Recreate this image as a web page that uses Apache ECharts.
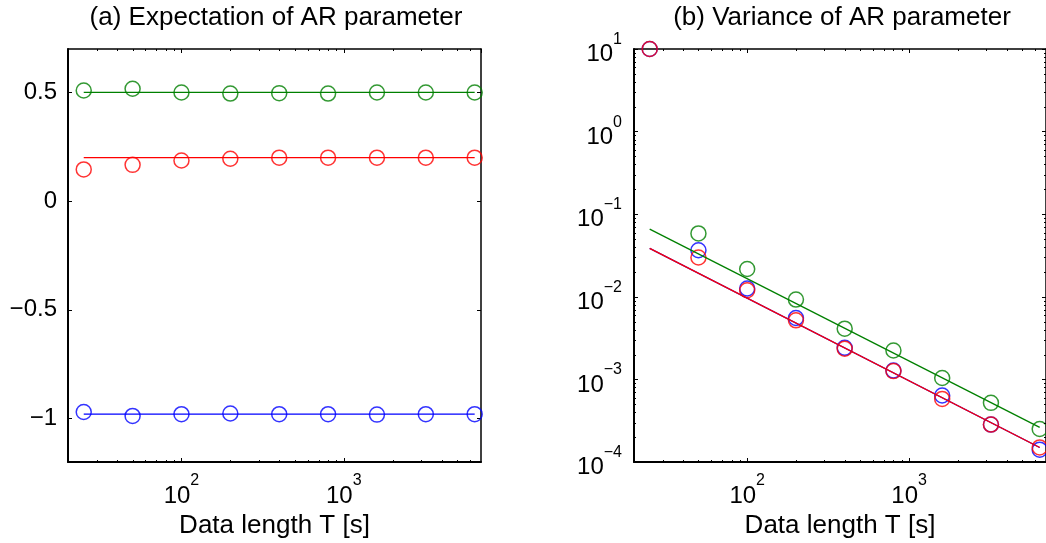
<!DOCTYPE html>
<html>
<head>
<meta charset="utf-8">
<script src="https://cdn.jsdelivr.net/npm/echarts@6/dist/echarts.min.js"></script>
<style>
  html, body { margin: 0; padding: 0; background: #fff; }
  #chart { width: 1046px; height: 543px; }
</style>
</head>
<body>
<div id="chart"></div>
<script>
// Data lengths T [s] of the simulated records
const dataLength = [25, 50, 100, 200, 400, 800, 1600, 3200, 6400];

// (a) Mean of the estimated AR parameters
const meanBlue  = [-0.970, -0.988, -0.980, -0.977, -0.980, -0.980, -0.982, -0.980, -0.980];
const meanGreen = [0.509, 0.517, 0.500, 0.495, 0.497, 0.495, 0.500, 0.500, 0.500];
const meanRed   = [0.146, 0.167, 0.187, 0.195, 0.200, 0.200, 0.200, 0.200, 0.200];

// (b) Variance of the estimated AR parameters
const varBlue  = [10, 0.0366, 0.0126, 0.00554, 0.00241, 0.00128, 0.000638, 0.000284, 0.000141];
const varGreen = [null, 0.0585, 0.0217, 0.00925, 0.00411, 0.00224, 0.00104, 0.00052, 0.000251];
const varRed   = [10, 0.0299, 0.0120, 0.00519, 0.00235, 0.00126, 0.00058, 0.000284, 0.000150];

// Reference (true / asymptotic) lines, given at both ends of the T range
const fitT = [25, 6400];
const fitMeanBlue  = [-0.98, -0.98];
const fitMeanGreen = [0.5, 0.5];
const fitMeanRed   = [0.2, 0.2];
const fitVarBlue   = [0.0385, 0.000150];
const fitVarGreen  = [0.0659, 0.000263];
const fitVarRed    = [0.0385, 0.000150];

// Axis ranges and tick values
const tRange = [20, 7000];
const meanRange = [-1.2, 0.7];
const varRange = [1e-4, 10];
const meanTicks = [-1, -0.5, 0, 0.5];
const minorT = [30, 40, 50, 60, 70, 80, 90, 200, 300, 400, 500, 600, 700, 800, 900,
                2000, 3000, 4000, 5000, 6000];
const minorVar = [2e-4, 3e-4, 4e-4, 5e-4, 6e-4, 7e-4, 8e-4, 9e-4,
                  0.002, 0.003, 0.004, 0.005, 0.006, 0.007, 0.008, 0.009,
                  0.02, 0.03, 0.04, 0.05, 0.06, 0.07, 0.08, 0.09,
                  0.2, 0.3, 0.4, 0.5, 0.6, 0.7, 0.8, 0.9,
                  2, 3, 4, 5, 6, 7, 8, 9];

const BLUE = '#0000ff', GREEN = '#008000', RED = '#ff0000';
const FONT = '"Liberation Sans", Arial, Helvetica, sans-serif';
const MINUS = '\u2212';

const powRich = {
  b: { fontSize: 24, lineHeight: 35, verticalAlign: 'bottom', color: '#000', fontFamily: FONT },
  s: { fontSize: 16, lineHeight: 16, verticalAlign: 'top', color: '#000', fontFamily: FONT }
};
function powLabel(value) {
  const e = Math.log10(value);
  const r = Math.round(e);
  if (Math.abs(e - r) > 1e-6) return '';
  return '{b|10}{s|' + (r < 0 ? MINUS + (-r) : r) + '}';
}
function meanLabel(v) {
  return v < 0 ? MINUS + String(Math.abs(v)) : String(v);
}

function pairs(xs, ys) {
  return xs.map((x, i) => (ys[i] == null ? null : [x, ys[i]])).filter(Boolean);
}
function circles(xs, ys, color, gi) {
  return {
    type: 'scatter', xAxisIndex: gi * 2, yAxisIndex: gi * 2,
    data: pairs(xs, ys), symbol: 'circle', symbolSize: 15, clip: false, silent: true,
    itemStyle: { color: 'transparent', borderColor: color, borderWidth: 1.5 }
  };
}
function refLine(ys, color, gi) {
  return {
    type: 'line', xAxisIndex: gi * 2, yAxisIndex: gi * 2,
    data: pairs(fitT, ys), showSymbol: false, symbol: 'none', silent: true,
    lineStyle: { color: color, width: 1.3 }
  };
}
// Minor tick marks on both opposite edges, positioned through the axis scale
function minorTicks(values, dim, gi, ref, len) {
  return {
    type: 'custom', xAxisIndex: gi * 2, yAxisIndex: gi * 2, silent: true, clip: false, z: 5,
    data: values.map(v => (dim === 'x' ? [v, ref] : [ref, v])),
    renderItem(params, api) {
      const cs = params.coordSys;
      const p = api.coord([api.value(0), api.value(1)]);
      const style = { stroke: '#000', lineWidth: 1 };
      if (dim === 'x') {
        const x = Math.round(p[0]) + 0.5;
        const yb = cs.y + cs.height, yt = cs.y;
        return { type: 'group', children: [
          { type: 'line', shape: { x1: x, y1: yb, x2: x, y2: yb - len }, style },
          { type: 'line', shape: { x1: x, y1: yt, x2: x, y2: yt + len }, style }
        ] };
      }
      const y = Math.round(p[1]) + 0.5;
      const xl = cs.x, xr = cs.x + cs.width;
      return { type: 'group', children: [
        { type: 'line', shape: { x1: xl, y1: y, x2: xl + len, y2: y }, style },
        { type: 'line', shape: { x1: xr, y1: y, x2: xr - len, y2: y }, style }
      ] };
    }
  };
}

function tAxis(gi, position, main) {
  return {
    type: 'log', logBase: 10, gridIndex: gi, position: position,
    min: tRange[0], max: tRange[1],
    axisLine: { show: true, onZero: false, lineStyle: { color: '#000', width: main ? 2 : 1.5 } },
    axisTick: { show: true, inside: true, length: 4, lineStyle: { color: '#000', width: 1 } },
    axisLabel: main
      ? { show: true, margin: 11, formatter: powLabel, rich: powRich, color: '#000', showMinLabel: false, showMaxLabel: false }
      : { show: false },
    splitLine: { show: false },
    name: main ? 'Data length T [s]' : '',
    nameLocation: 'middle', nameGap: 42,
    nameTextStyle: { fontSize: 26, color: '#000', fontFamily: FONT }
  };
}
function meanAxis(position, main) {
  return {
    type: 'value', gridIndex: 0, position: position,
    min: meanRange[0], max: meanRange[1],
    axisLine: { show: true, onZero: false, lineStyle: { color: '#000', width: main ? 2 : 1.5 } },
    axisTick: { show: true, inside: true, length: 4, customValues: meanTicks, lineStyle: { color: '#000', width: 1 } },
    axisLabel: main
      ? { show: true, customValues: meanTicks, formatter: meanLabel, fontSize: 24, color: '#000', fontFamily: FONT, margin: 11 }
      : { show: false },
    splitLine: { show: false }
  };
}
function varAxis(position, main) {
  return {
    type: 'log', logBase: 10, gridIndex: 1, position: position,
    min: varRange[0], max: varRange[1],
    axisLine: { show: true, onZero: false, lineStyle: { color: '#000', width: main ? 2 : 1.5 } },
    axisTick: { show: true, inside: true, length: 4, lineStyle: { color: '#000', width: 1 } },
    axisLabel: main
      ? { show: true, margin: 12, formatter: powLabel, rich: powRich, color: '#000', showMinLabel: true, showMaxLabel: true }
      : { show: false },
    splitLine: { show: false }
  };
}

const chart = echarts.init(document.getElementById('chart'), null, { renderer: 'canvas' });
chart.setOption({
  animation: false,
  backgroundColor: '#fff',
  textStyle: { fontFamily: FONT, color: '#000' },
  title: [
    { text: '(a) Expectation of AR parameter', left: 276, top: 5, padding: 0, textAlign: 'center',
      textStyle: { fontSize: 26, fontWeight: 'normal', color: '#000', fontFamily: FONT } },
    { text: '(b) Variance of AR parameter', left: 842, top: 5, padding: 0, textAlign: 'center',
      textStyle: { fontSize: 26, fontWeight: 'normal', color: '#000', fontFamily: FONT } }
  ],
  grid: [
    { left: 68, top: 49, width: 413, height: 413, containLabel: false, outerBoundsMode: 'none' },
    { left: 634, top: 49, width: 412, height: 413, containLabel: false, outerBoundsMode: 'none' }
  ],
  xAxis: [tAxis(0, 'bottom', true), tAxis(0, 'top', false), tAxis(1, 'bottom', true), tAxis(1, 'top', false)],
  yAxis: [meanAxis('left', true), meanAxis('right', false), varAxis('left', true), varAxis('right', false)],
  series: [
    // (a) expectation
    refLine(fitMeanBlue, BLUE, 0), circles(dataLength, meanBlue, BLUE, 0),
    refLine(fitMeanGreen, GREEN, 0), circles(dataLength, meanGreen, GREEN, 0),
    refLine(fitMeanRed, RED, 0), circles(dataLength, meanRed, RED, 0),
    minorTicks(minorT, 'x', 0, 0, 2),
    // (b) variance
    refLine(fitVarBlue, BLUE, 1), circles(dataLength, varBlue, BLUE, 1),
    refLine(fitVarGreen, GREEN, 1), circles(dataLength, varGreen, GREEN, 1),
    refLine(fitVarRed, RED, 1), circles(dataLength, varRed, RED, 1),
    minorTicks(minorT, 'x', 1, 1, 2),
    minorTicks(minorVar, 'y', 1, 100, 2)
  ]
});
</script>
</body>
</html>
